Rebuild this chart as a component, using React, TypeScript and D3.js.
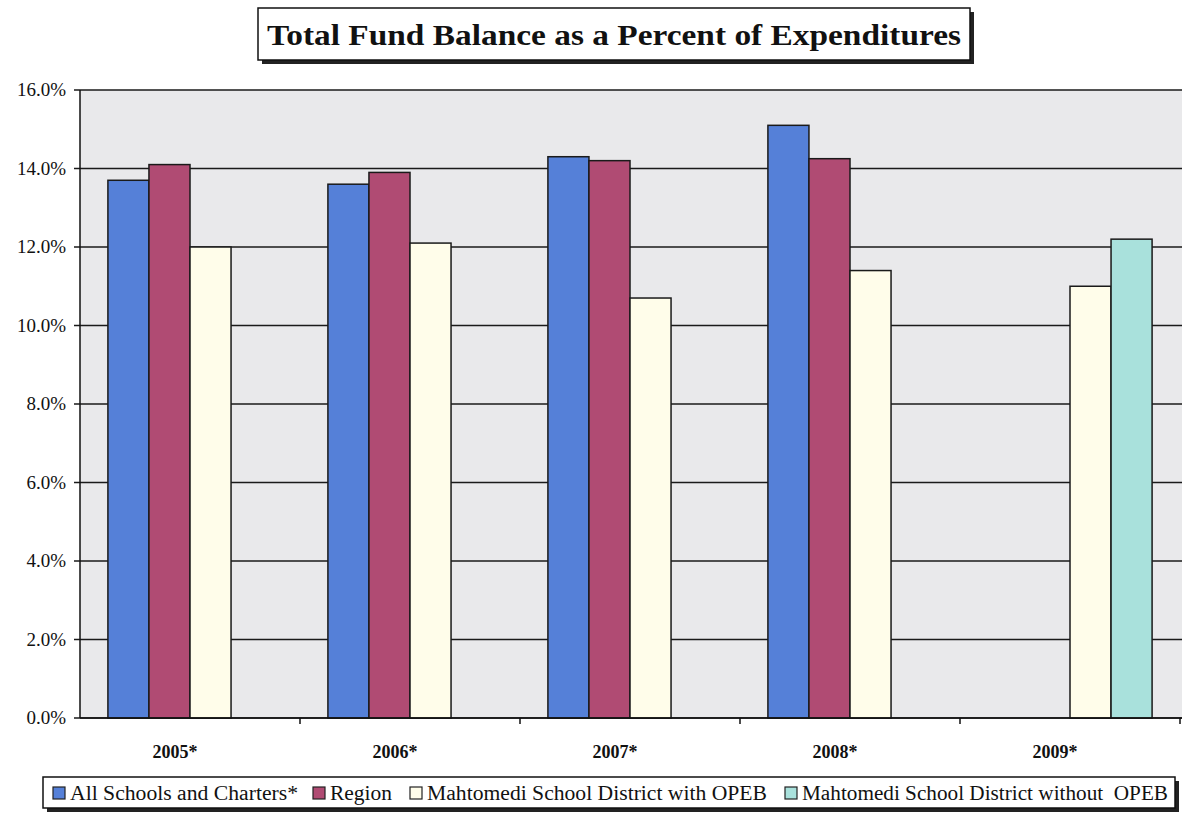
import React from "react";
import * as d3 from "d3";

const categories = ["2005*", "2006*", "2007*", "2008*", "2009*"];
const seriesNames = [
  "All Schools and Charters*",
  "Region",
  "Mahtomedi School District with OPEB",
  "Mahtomedi School District without  OPEB",
];
const allSchools: (number | null)[] = [13.7, 13.6, 14.3, 15.1, null];
const region: (number | null)[] = [14.1, 13.9, 14.2, 14.25, null];
const withOpeb: (number | null)[] = [12.0, 12.1, 10.7, 11.4, 11.0];
const withoutOpeb: (number | null)[] = [null, null, null, null, 12.2];
const yTicks = [0, 2, 4, 6, 8, 10, 12, 14, 16];
const colors = ["#5580d8", "#b04b73", "#fffdea", "#a9e1dc"];

const W = 1182;
const H = 814;
const m = { left: 80, right: 1182, top: 90, bottom: 718 };
const serif = "Liberation Serif";

export default function App() {
  const series = [allSchools, region, withOpeb, withoutOpeb];
  const x = d3.scaleBand<string>().domain(categories).range([m.left, m.left + 1100]);
  const x1 = d3.scaleBand<number>().domain([0, 1, 2, 3]).range([0, x.bandwidth()]).paddingOuter(0.68).paddingInner(0);
  const y = d3.scaleLinear().domain([0, 16]).range([m.bottom, m.top]);
  const fmt = (v: number) => v.toFixed(1) + "%";
  const ts = { fontFamily: serif };

  return (
    <div style={{ position: "absolute", left: 0, top: 0 }}>
      <svg width={W} height={H} style={{ display: "block", background: "#fff" }}>
        {/* title */}
        <rect x={262} y={12} width={712} height={52} fill="#222" />
        <rect x={258} y={8} width={712} height={52} fill="#fff" stroke="#111" strokeWidth={1.5} />
        <text
          x={614}
          y={45}
          textAnchor="middle"
          fontSize={30}
          fontWeight="bold"
          fill="#111"
          style={ts}
          textLength={694}
          lengthAdjust="spacingAndGlyphs"
        >
          Total Fund Balance as a Percent of Expenditures
        </text>
        {/* plot bg */}
        <rect x={m.left} y={m.top} width={m.right - m.left} height={m.bottom - m.top} fill="#e9e9eb" />
        {yTicks.map((t) => (
          <g key={t}>
            <line x1={m.left - 6} x2={m.right} y1={y(t)} y2={y(t)} stroke="#1a1a1a" strokeWidth={1.5} />
            <text x={66} y={y(t) + 6} textAnchor="end" fontSize={19} fill="#111" style={ts}>
              {fmt(t)}
            </text>
          </g>
        ))}
        <line x1={m.left} x2={m.left} y1={m.top} y2={m.bottom} stroke="#111" strokeWidth={1.5} />
        {categories.map((c, i) => (
          <g key={c}>
            {series.map((s, si) => {
              const v = s[i];
              if (v == null) return null;
              return (
                <rect
                  key={si}
                  x={(x(c) as number) + (x1(si) as number)}
                  y={y(v)}
                  width={x1.bandwidth()}
                  height={y(0) - y(v)}
                  fill={colors[si]}
                  stroke="#1a1a1a"
                  strokeWidth={1.5}
                />
              );
            })}
            <line
              x1={(x(c) as number) + x.bandwidth()}
              x2={(x(c) as number) + x.bandwidth()}
              y1={m.bottom}
              y2={m.bottom + 6}
              stroke="#111"
              strokeWidth={1.5}
            />
            <text
              x={(x(c) as number) + x.bandwidth() / 2 - 15}
              y={758}
              textAnchor="middle"
              fontSize={18}
              fontWeight="bold"
              fill="#111"
              style={ts}
            >
              {c}
            </text>
          </g>
        ))}
        <line x1={m.left} x2={m.right} y1={m.bottom} y2={m.bottom} stroke="#111" strokeWidth={1.5} />
        {/* legend */}
        <rect x={47} y={781} width={1132} height={31} fill="#222" />
        <rect x={43} y={777} width={1132} height={31} fill="#fff" stroke="#111" strokeWidth={1.5} />
        <Legend />
      </svg>
    </div>
  );
}

function Legend() {
  const xs = [53, 313, 410, 785];
  const ends = [298, 392, 767, 1168];
  return (
    <g>
      {seriesNames.map((n, i) => (
        <g key={n}>
          <rect x={xs[i]} y={787} width={12} height={12} fill={colors[i]} stroke="#222" strokeWidth={1.2} />
          <text
            x={xs[i] + 17}
            y={800}
            fontSize={20}
            fill="#111"
            style={{ fontFamily: serif, whiteSpace: "pre" }}
            textLength={ends[i] - xs[i] - 17}
            lengthAdjust="spacingAndGlyphs"
          >
            {n}
          </text>
        </g>
      ))}
    </g>
  );
}
